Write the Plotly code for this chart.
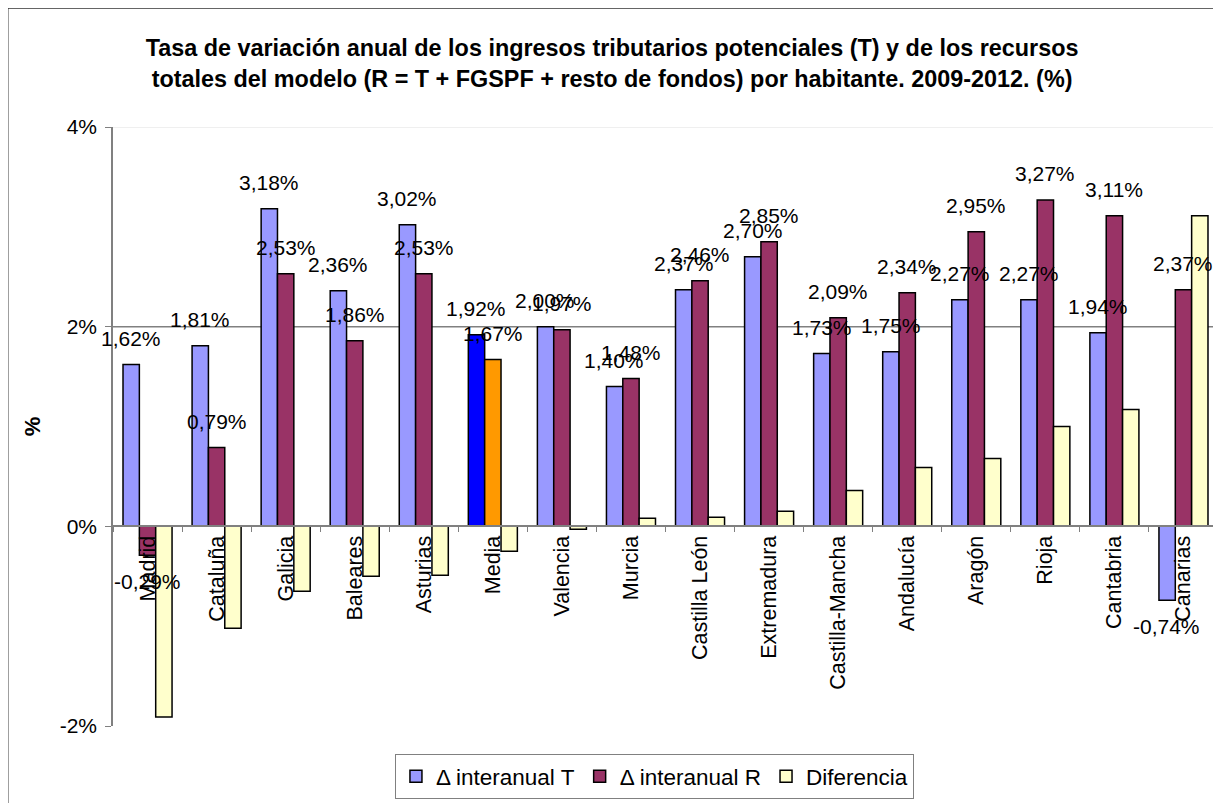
import plotly.graph_objects as go

categories = ["Madrid", "Cataluña", "Galicia", "Baleares", "Asturias", "Media", "Valencia",
              "Murcia", "Castilla León", "Extremadura", "Castilla-Mancha", "Andalucía",
              "Aragón", "Rioja", "Cantabria", "Canarias"]
delta_T = [1.62, 1.81, 3.18, 2.36, 3.02, 1.92, 2.00, 1.40, 2.37, 2.70, 1.73, 1.75, 2.27, 2.27, 1.94, -0.74]
delta_R = [-0.29, 0.79, 2.53, 1.86, 2.53, 1.67, 1.97, 1.48, 2.46, 2.85, 2.09, 2.34, 2.95, 3.27, 3.11, 2.37]
diferencia = [-1.91, -1.02, -0.65, -0.50, -0.49, -0.25, -0.03, 0.08, 0.09, 0.15, 0.36, 0.59, 0.68, 1.00, 1.17, 3.11]
y_ticks = [-2, 0, 2, 4]
y_tick_labels = ["-2%", "0%", "2%", "4%"]

title = ("Tasa de variación anual de los ingresos tributarios potenciales (T) y de los recursos<br>"
         "totales del modelo (R = T + FGSPF + resto de fondos) por habitante. 2009-2012. (%)")

FONT = "Liberation Sans, Arial, sans-serif"
col_T = ["#0000FF" if c == "Media" else "#9999FF" for c in categories]
col_R = ["#FF9900" if c == "Media" else "#993366" for c in categories]

ymin, ymax = y_ticks[0], y_ticks[-1]

fig = go.Figure()
fig.add_trace(go.Bar(name="\u0394 interanual T", x=categories, y=delta_T,
                     marker=dict(color=col_T, line=dict(color="black", width=1.5))))
fig.add_trace(go.Bar(name="\u0394 interanual R", x=categories, y=delta_R,
                     marker=dict(color=col_R, line=dict(color="black", width=1.5))))
fig.add_trace(go.Bar(name="Diferencia", x=categories, y=diferencia,
                     marker=dict(color="#FFFFCC", line=dict(color="black", width=1.5))))

def fmt(v):
    return f"{v:.2f}".replace(".", ",") + "%"

annotations = []
for series, xs in ((delta_T, -16.5), (delta_R, 0.0)):
    for c, v in zip(categories, series):
        annotations.append(dict(x=c, y=v, xref="x", yref="y", text=fmt(v), showarrow=False,
                                xshift=xs, yshift=26 if v >= 0 else -26,
                                font=dict(family=FONT, size=21, color="black")))

# page body has an 8px margin: figure is sized/offset to compensate
fig.update_layout(
    width=1213, height=795,
    margin=dict(l=105, r=3, t=119, b=77),
    paper_bgcolor="white", plot_bgcolor="white",
    barmode="group", bargap=0.29, bargroupgap=0,
    title=dict(text=title, x=0.498, xref="container", xanchor="center", y=0.939, yanchor="middle",
               font=dict(family=FONT, size=23.4, color="black", weight="bold")),
    xaxis=dict(anchor="free", position=(0 - ymin) / (ymax - ymin),
               range=[-0.5, len(categories) - 0.5], autorange=False,
               showline=True, linecolor="#808080", linewidth=1.5,
               ticks="outside", tickson="boundaries", ticklen=5, tickcolor="#808080",
               tickangle=-90, tickfont=dict(family=FONT, size=21.5, color="black"),
               showgrid=False, zeroline=False),
    yaxis=dict(range=[ymin, ymax], autorange=False, tickvals=y_ticks, ticktext=y_tick_labels,
               showline=True, linecolor="#808080", linewidth=1.5,
               ticks="outside", ticklen=6, tickcolor="#808080", ticklabelstandoff=4,
               tickfont=dict(family=FONT, size=21, color="black"),
               showgrid=False, zeroline=False,
               title=dict(text="<b>%</b>", font=dict(family=FONT, size=22, color="black"), standoff=13)),
    legend=dict(orientation="h", x=0.49, xanchor="center", y=-0.047, yanchor="top",
                bordercolor="#808080", borderwidth=1, bgcolor="white",
                font=dict(family=FONT, size=22.5, color="black"),
                itemwidth=30, tracegroupgap=0),
    annotations=annotations,
    shapes=[
        dict(type="line", xref="paper", yref="y", x0=0, x1=1, y0=y_ticks[2], y1=y_ticks[2],
             line=dict(color="#808080", width=1.5), layer="below"),
        dict(type="line", xref="paper", yref="y", x0=0, x1=1, y0=ymax, y1=ymax,
             line=dict(color="#E0E0E0", width=1), layer="below"),
        dict(type="rect", xref="paper", yref="paper", x0=-0.0955, x1=1.2, y0=-0.3, y1=1.199,
             line=dict(color="#333333", width=2), fillcolor="rgba(0,0,0,0)", layer="below"),
    ],
)

fig.write_html("out.html")
